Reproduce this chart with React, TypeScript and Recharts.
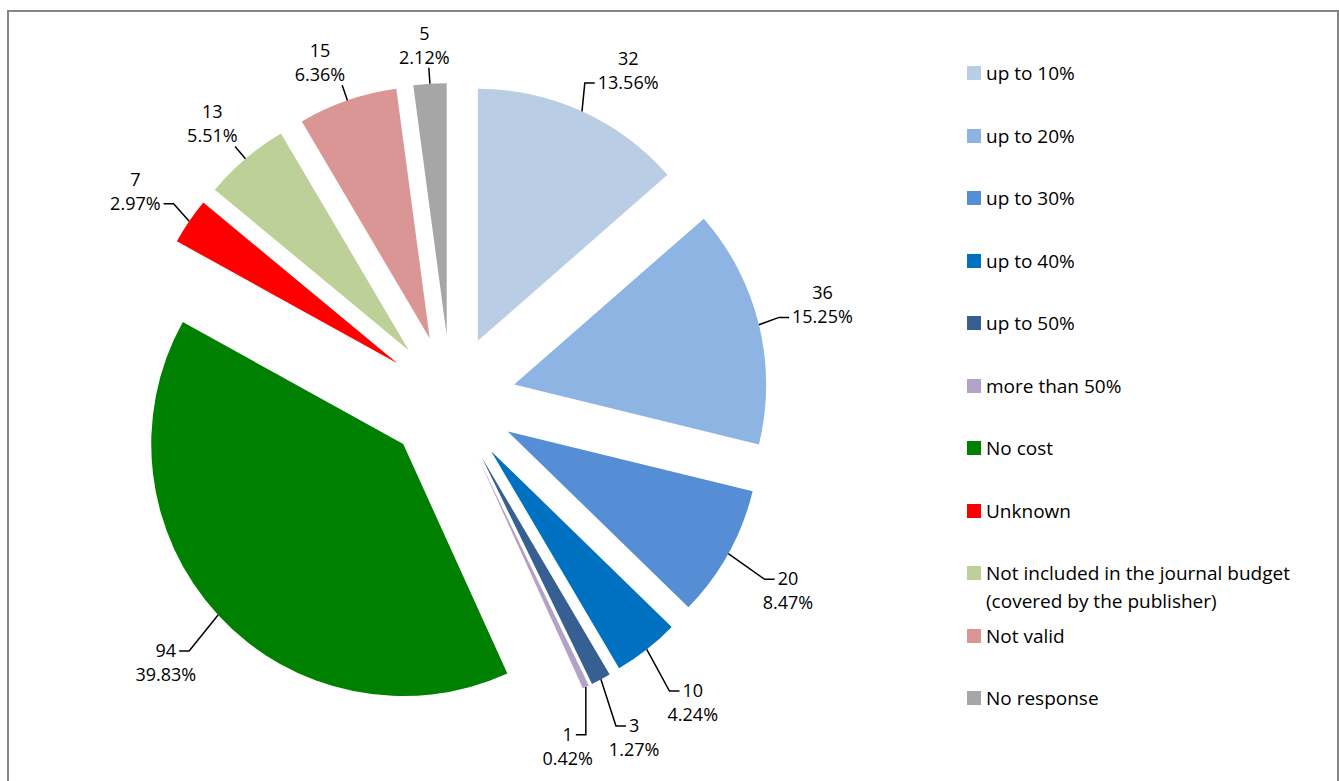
import React from "react";
import { PieChart, Pie, Cell, Sector, Legend } from "recharts";

const categories = [
  "up to 10%",
  "up to 20%",
  "up to 30%",
  "up to 40%",
  "up to 50%",
  "more than 50%",
  "No cost",
  "Unknown",
  "Not included in the journal budget (covered by the publisher)",
  "Not valid",
  "No response",
];

const counts = [32, 36, 20, 10, 3, 1, 94, 7, 13, 15, 5];

const colors = [
  "#B9CDE5",
  "#8EB4E3",
  "#558ED5",
  "#0070C0",
  "#376092",
  "#B3A2C7",
  "#008000",
  "#FF0000",
  "#BCD098",
  "#D99694",
  "#A6A6A6",
];

const data = categories.map((name, i) => ({ name, value: counts[i] }));

const FONT = "'Open Sans', sans-serif";
const LABEL_SIZE = 18;
const RAD = Math.PI / 180;
const EXPLODE = 65;

// rough Open Sans advance widths
function textWidth(s: string) {
  let w = 0;
  for (const ch of s) {
    if (ch === ".") w += 0.267;
    else if (ch === "%") w += 0.82;
    else w += 0.572;
  }
  return w * LABEL_SIZE;
}

function ExplodedSector(props: any) {
  const { cx, cy, midAngle, innerRadius, outerRadius, startAngle, endAngle, fill } = props;
  const dx = Math.cos(-midAngle * RAD) * EXPLODE;
  const dy = Math.sin(-midAngle * RAD) * EXPLODE;
  return (
    <Sector
      cx={cx + dx}
      cy={cy + dy}
      innerRadius={innerRadius}
      outerRadius={outerRadius}
      startAngle={startAngle}
      endAngle={endAngle}
      fill={fill}
      stroke="none"
    />
  );
}

function renderLabel(props: any) {
  const { cx, cy, midAngle, outerRadius, value, percent } = props;
  const ux = Math.cos(-midAngle * RAD);
  const uy = Math.sin(-midAngle * RAD);
  const ex = cx + ux * EXPLODE;
  const ey = cy + uy * EXPLODE;
  const x0 = ex + ux * outerRadius;
  const y0 = ey + uy * outerRadius;
  const line1 = String(value);
  const line2 = (percent * 100).toFixed(2) + "%";
  const lower = uy > 0;
  const textStyle = { fontFamily: FONT, fontSize: LABEL_SIZE, fill: "#000" };

  let pts: number[][];
  let tx: number;
  let b1: number;
  let b2: number;

  if (!lower && uy < -0.7 && ux < 0.2) {
    // near the top: leader ends under the text block
    const d = outerRadius + 16;
    const ax = ex + ux * d;
    const ay = ey + uy * d;
    pts = [[x0, y0], [ax, ay]];
    const w = textWidth(line2);
    tx = ax + Math.sign(ux) * Math.min(1, Math.abs(ux) * 3) * w * 0.45;
    b2 = ay - 4;
    b1 = b2 - 24;
  } else if (lower && ux > 0 && ux < 0.45) {
    // near the bottom: straight down, tick to the left
    const d = outerRadius + 53;
    const ay = ey + uy * d;
    const ax = x0 - 10;
    pts = [[x0, y0], [x0, ay], [ax, ay]];
    tx = ax - 3 - textWidth(line1) / 2;
    b1 = ay + 6;
    b2 = b1 + 24;
  } else {
    const side = ux >= 0 ? 1 : -1;
    const d = outerRadius + (lower ? 53 : 31);
    const ax = ex + ux * d;
    const ay = ey + uy * d;
    pts = [[x0, y0], [ax - side * 10, ay], [ax, ay]];
    const attached = lower ? line1 : line2;
    tx = ax + side * (3 + textWidth(attached) / 2);
    if (lower) {
      b1 = ay + 6;
      b2 = b1 + 24;
    } else {
      b2 = ay + 6;
      b1 = b2 - 24;
    }
  }

  return (
    <g>
      <polyline
        points={pts.map((p) => p.join(",")).join(" ")}
        fill="none"
        stroke="#000"
        strokeWidth={1.5}
      />
      <text x={tx} y={b1} textAnchor="middle" style={textStyle}>
        {line1}
      </text>
      <text x={tx} y={b2} textAnchor="middle" style={textStyle}>
        {line2}
      </text>
    </g>
  );
}

// legend drawn in data order (Recharts would sort it by name)
function LegendContent() {
  return (
    <div style={{ position: "relative", fontFamily: FONT, fontSize: 19, color: "#000" }}>
      {categories.map((name, i) => (
        <div
          key={name}
          style={{
            position: "absolute",
            top: i * 62.5,
            left: 0,
            display: "flex",
            alignItems: "flex-start",
            lineHeight: "28px",
          }}
        >
          <span
            style={{
              display: "inline-block",
              width: 14,
              height: 14,
              marginTop: 7,
              marginRight: 5,
              background: colors[i],
              flex: "none",
            }}
          />
          <span style={{ width: 345 }}>{name}</span>
        </div>
      ))}
    </div>
  );
}

export default function App() {
  return (
    <div
      style={{
        position: "absolute",
        left: 7,
        top: 10,
        width: 1328,
        height: 769,
        borderTop: "2px solid #868686",
        borderLeft: "2px solid #868686",
        borderRight: "2px solid #868686",
        background: "#fff",
      }}
    >
      <PieChart width={1328} height={769}>
        <Pie
          data={data}
          dataKey="value"
          nameKey="name"
          cx={437}
          cy={383}
          outerRadius={252}
          startAngle={90}
          endAngle={-270}
          stroke="none"
          shape={ExplodedSector}
          label={renderLabel}
          labelLine={false}
          isAnimationActive={false}
        >
          {data.map((d, i) => (
            <Cell key={d.name} fill={colors[i]} />
          ))}
        </Pie>
        <Legend
          layout="vertical"
          align="right"
          verticalAlign="top"
          content={<LegendContent />}
          wrapperStyle={{ position: "absolute", left: 958, top: 47, width: 365, height: 700 }}
        />
      </PieChart>
    </div>
  );
}
